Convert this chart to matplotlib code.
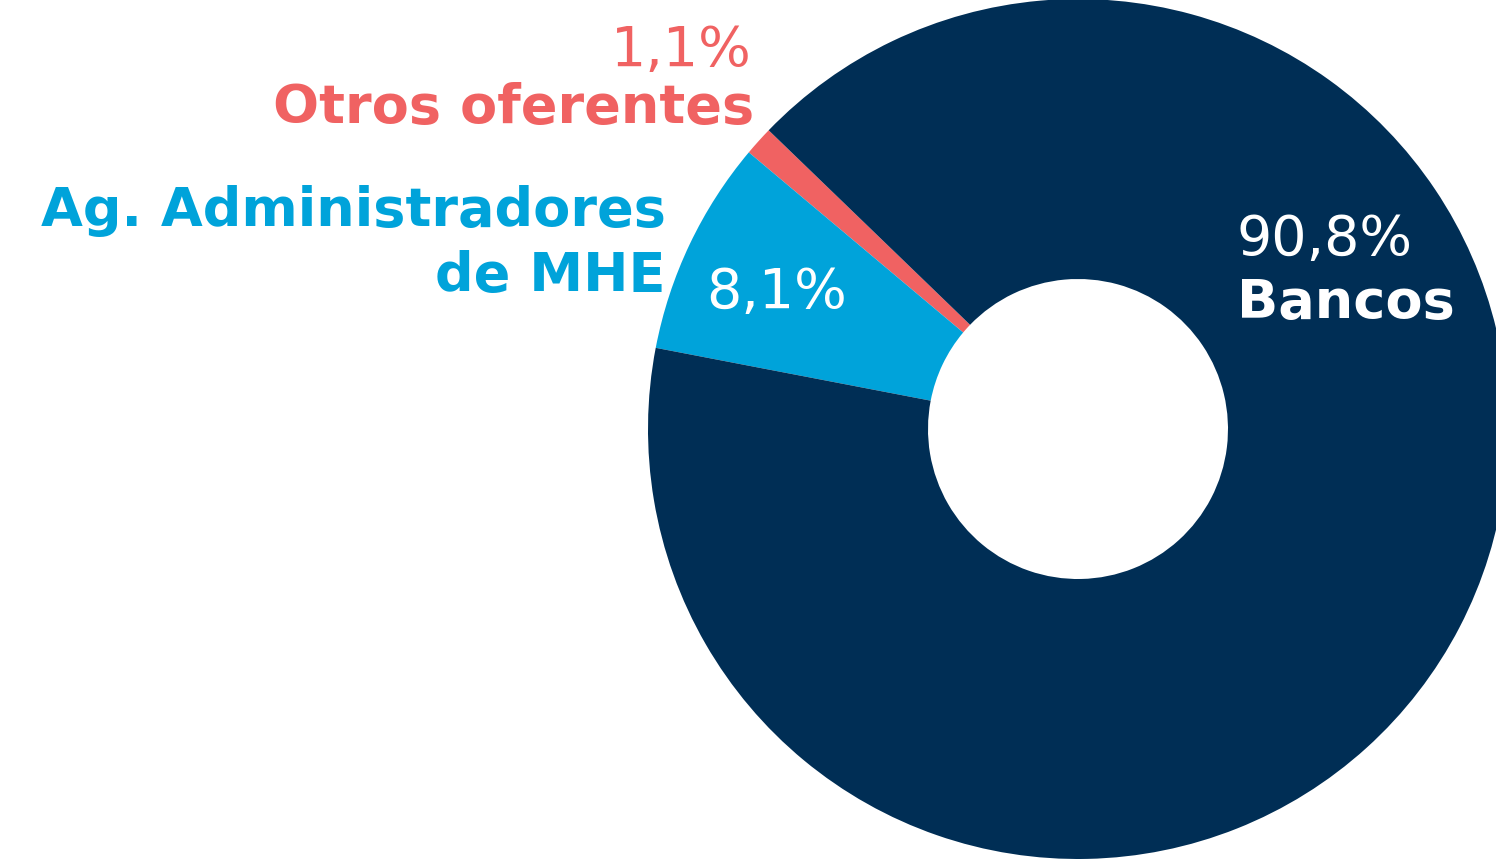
import matplotlib
matplotlib.use('Agg')
import matplotlib.pyplot as plt

# share of offer by type of institution (%)
labels = ['Otros oferentes', 'Ag. Administradores\nde MHE', 'Bancos']
shares = [1.1, 8.1, 90.8]
colors = ['#F06262', '#00A3DA', '#002E55']

W, H = 1496, 859
fig = plt.figure(figsize=(W / 100, H / 100), dpi=100)
ax = fig.add_axes([0, 0, 1, 1])
ax.pie(shares, colors=colors, startangle=136, counterclock=True,
       center=(1078, H - 429), radius=430,
       wedgeprops=dict(width=280, linewidth=0))
ax.set_xlim(0, W)
ax.set_ylim(0, H)
ax.set_aspect('auto')
ax.axis('off')

def pct(v):
    return '{:.1f}%'.format(v).replace('.', ',')

fs_b = 39   # bold labels
fs_r = 40   # percentages
# Otros oferentes
ax.text(752, H - 66, pct(shares[0]), color=colors[0], fontsize=fs_r,
        ha='right', va='baseline')
ax.text(754, H - 123, labels[0], color=colors[0], fontsize=fs_b,
        fontweight='bold', ha='right', va='baseline')
# Ag. Administradores de MHE
ax.text(666, H - 226, labels[1].split('\n')[0], color=colors[1], fontsize=fs_b,
        fontweight='bold', ha='right', va='baseline')
ax.text(666, H - 291, labels[1].split('\n')[1], color=colors[1], fontsize=fs_b,
        fontweight='bold', ha='right', va='baseline')
ax.text(706, H - 308, pct(shares[1]), color='white', fontsize=fs_r,
        ha='left', va='baseline')
# Bancos
ax.text(1237, H - 255, pct(shares[2]), color='white', fontsize=fs_r,
        ha='left', va='baseline')
ax.text(1237, H - 318, labels[2], color='white', fontsize=fs_b,
        fontweight='bold', ha='left', va='baseline')

fig.savefig('out.png', dpi=100)
